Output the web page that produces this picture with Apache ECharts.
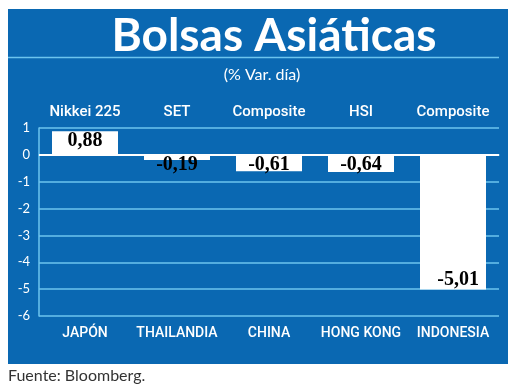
<!DOCTYPE html>
<html><head><meta charset="utf-8">
<script src="https://cdn.jsdelivr.net/npm/echarts@6/dist/echarts.min.js"></script>
<style>html,body{margin:0;padding:0;background:#fff}#c{width:520px;height:388px}</style>
</head><body><div id="c"></div>
<script>
const countries = ['JAPÓN', 'THAILANDIA', 'CHINA', 'HONG KONG', 'INDONESIA'];
const indices = ['Nikkei 225', 'SET', 'Composite', 'HSI', 'Composite'];
const values = [0.88, -0.19, -0.61, -0.64, -5.01];

const BLUE = '#0a68b2';
const GRID = '#6cc4ee';
const COND = 'Roboto, sans-serif';

const chart = echarts.init(document.getElementById('c'), null, {renderer: 'canvas'});
const fmt = v => v.toFixed(2).replace('.', ',');

chart.setOption({
  animation: false,
  backgroundColor: '#ffffff',
  graphic: [
    {type: 'rect', shape: {x: 8, y: 9, width: 500, height: 355}, style: {fill: BLUE}, z: -10},
    {type: 'line', shape: {x1: 8, y1: 57.5, x2: 499, y2: 57.5}, style: {stroke: GRID, lineWidth: 1.5}, z: 1},
    {type: 'text', x: 274, y: 36, style: {text: 'Bolsas Asiáticas', fill: '#fff', font: 'bold 46px Lato, sans-serif', align: 'center', verticalAlign: 'middle'}, z: 2},
    {type: 'text', x: 262, y: 75, style: {text: '(% Var. día)', fill: '#fff', font: '16px Lato, sans-serif', align: 'center', verticalAlign: 'middle'}, z: 2},
    {type: 'text', x: 8, y: 376, style: {text: 'Fuente: Bloomberg.', fill: '#333', font: '16px Lato, sans-serif', align: 'left', verticalAlign: 'middle'}, z: 2}
  ],
  grid: {left: 39, right: 21, top: 128, bottom: 72, containLabel: false},
  xAxis: [
    {
      type: 'category', data: countries, position: 'bottom',
      axisLine: {show: true, lineStyle: {color: GRID, width: 1.5}},
      axisTick: {show: false},
      axisLabel: {interval: 0, color: '#fff', fontFamily: COND, fontWeight: 500, fontSize: 14, margin: 10}
    },
    {
      type: 'category', data: indices, position: 'top',
      axisLine: {show: false}, axisTick: {show: false},
      axisLabel: {interval: 0, color: '#fff', fontFamily: COND, fontWeight: 500, fontSize: 15, margin: 8}
    }
  ],
  yAxis: {
    type: 'value', min: -6, max: 1, interval: 1,
    axisLine: {show: true, lineStyle: {color: GRID, width: 1.5}},
    axisTick: {show: false},
    axisLabel: {color: '#fff', fontFamily: 'Lato, sans-serif', fontSize: 13, margin: 9},
    splitLine: {show: true, lineStyle: {color: GRID, width: 1.5}}
  },
  series: [{
    type: 'bar', xAxisIndex: 0,
    barWidth: 66,
    itemStyle: {color: '#ffffff'},
    data: values.map(v => ({
      value: v,
      label: v < -2
        ? {position: 'insideBottomRight', distance: 0, offset: [-7, 0]}
        : {position: 'insideTop', distance: 0}
    })),
    label: {
      show: true, color: '#000', fontFamily: '"Liberation Serif", serif', fontWeight: 'bold', fontSize: 20,
      formatter: p => fmt(p.value)
    },
    markLine: {
      silent: true, symbol: 'none', label: {show: false},
      lineStyle: {color: '#ffffff', width: 2, type: 'solid'},
      data: [{yAxis: 0}]
    }
  }]
});
</script></body></html>
